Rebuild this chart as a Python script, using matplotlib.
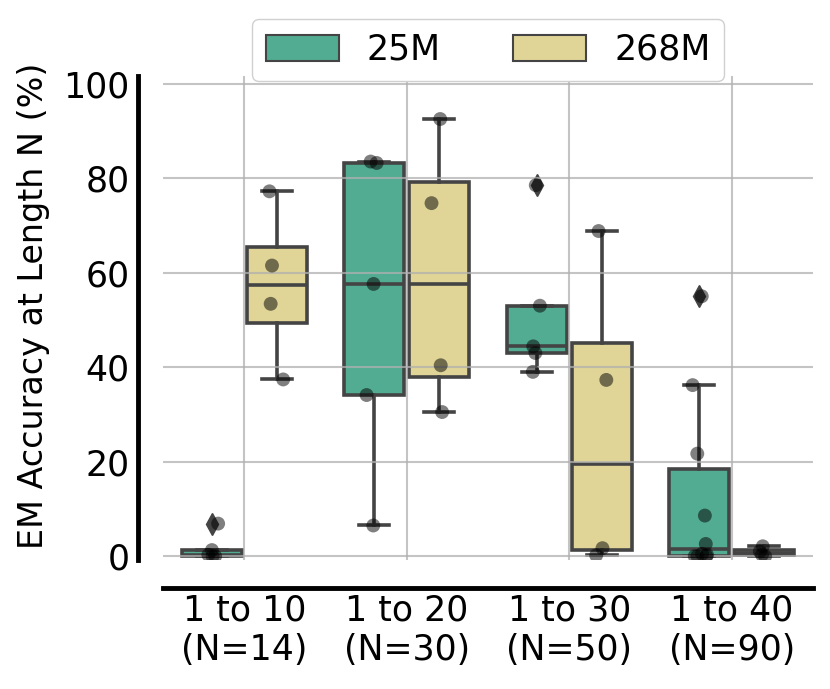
import numpy as np
import pandas as pd
import matplotlib
matplotlib.use("Agg")
import matplotlib.pyplot as plt
from matplotlib.patches import Patch
import seaborn as sns

# length buckets and their tick labels
buckets = ["1 to 10", "1 to 20", "1 to 30", "1 to 40"]
tick_labels = ["1 to 10\n(N=14)", "1 to 20\n(N=30)", "1 to 30\n(N=50)", "1 to 40\n(N=90)"]
models = ["25M", "268M"]

# EM accuracy per run (%), one list per bucket
acc_25m = [
    [0.0, 0.0, 0.3, 1.3, 6.9],
    [6.5, 34.1, 57.6, 83.2, 83.5],
    [39.0, 43.0, 44.4, 53.0, 78.5],
    [0.0, 0.0, 0.0, 0.3, 0.5, 2.6, 8.6, 21.7, 36.2, 55.0],
]
acc_268m = [
    [37.4, 53.4, 61.5, 77.2],
    [30.5, 40.4, 74.7, 92.5],
    [0.2, 1.7, 37.3, 68.8],
    [0.0, 0.3, 1.0, 2.1],
]

colors = ["#52ac92", "#e0d597"]
edge = "#444444"
fs = 25

rows = []
for model, groups in zip(models, [acc_25m, acc_268m]):
    for b, vals in zip(buckets, groups):
        for v in vals:
            rows.append({"bucket": b, "model": model, "acc": v})
df = pd.DataFrame(rows)

fig = plt.figure(figsize=(8.3, 6.89), dpi=100)
ax = fig.add_axes([163 / 830, (689 - 560) / 689, 650 / 830, 484 / 689])

# boxes
for k, (groups, col) in enumerate(zip([acc_25m, acc_268m], colors)):
    pos = np.arange(len(buckets)) + (k - 0.5) * 0.4
    ax.boxplot(groups, positions=pos, widths=0.37, whis=1.5, patch_artist=True,
               manage_ticks=False, capwidths=0.185,
               boxprops=dict(facecolor=col, edgecolor=edge, linewidth=2.6),
               medianprops=dict(color=edge, linewidth=2.6),
               whiskerprops=dict(color=edge, linewidth=2.6),
               capprops=dict(color=edge, linewidth=2.6),
               flierprops=dict(marker="d", markerfacecolor=edge, markeredgecolor=edge,
                               markersize=11))

# individual runs
np.random.seed(3)
sns.stripplot(data=df, x="bucket", y="acc", hue="model", order=buckets, hue_order=models,
              dodge=True, jitter=0.1, palette=["black", "black"], alpha=0.5, size=10,
              linewidth=0, legend=False, ax=ax, zorder=3)

ax.set_xlim(-0.5, 3.5)
ax.set_ylim(-0.8, 101.6)
ax.set_xticks(range(len(buckets)))
ax.set_xticklabels(tick_labels)
ax.set_yticks([0, 20, 40, 60, 80, 100])
ax.set_xlabel("")
ax.set_ylabel("EM Accuracy at Length N (%)", fontsize=24)
ax.yaxis.set_label_coords(-0.174, 0.525)
ax.tick_params(axis="both", length=0, labelsize=fs)
ax.tick_params(axis="y", pad=6)
ax.tick_params(axis="x", pad=4)

ax.grid(True, color="#b0b0b0", alpha=0.75, linewidth=1.5)
ax.set_axisbelow(False)

for s in ["top", "right"]:
    ax.spines[s].set_visible(False)
ax.spines["left"].set_position(("outward", 18))
ax.spines["bottom"].set_position(("outward", 20))
for s in ["left", "bottom"]:
    ax.spines[s].set_linewidth(3.5)
    ax.spines[s].set_color("black")

handles = [Patch(facecolor=c, edgecolor=edge, linewidth=1.5, label=m) for c, m in zip(colors, models)]
leg = ax.legend(handles=handles, loc="lower center", bbox_to_anchor=(0.5, 0.99), ncol=2,
                fontsize=fs, handlelength=2.1, handleheight=0.75, handletextpad=0.8,
                columnspacing=2.1, borderaxespad=0, framealpha=1, edgecolor="#d0d0d0")

fig.savefig("out.png", dpi=100)
